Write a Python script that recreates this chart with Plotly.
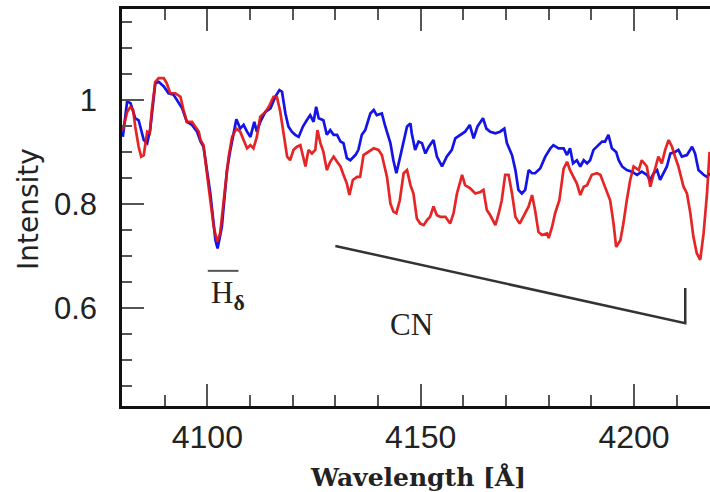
import plotly.graph_objects as go

# ---- data ----
blue_wl = [4080.2, 4081.2, 4082.0, 4083.1, 4083.9, 4085.1, 4085.9, 4086.6, 4087.8, 4088.6,
           4089.8, 4090.9, 4092.1, 4093.3, 4094.1, 4095.2, 4096.4, 4097.6, 4098.4, 4099.1,
           4100.7, 4101.9, 4102.4, 4103.4, 4104.6, 4105.4, 4106.2, 4106.8, 4107.7, 4108.5,
           4109.3, 4110.1, 4111.0, 4111.6, 4112.4, 4113.6, 4114.8, 4115.9, 4116.9, 4117.5,
           4118.3, 4119.0, 4119.8, 4120.6, 4121.4, 4122.4, 4123.3, 4124.1, 4124.9, 4125.5,
           4126.1, 4127.2, 4128.0, 4128.8, 4129.6, 4130.4, 4131.2, 4131.9, 4132.7, 4133.5,
           4134.7, 4135.4, 4136.2, 4137.0, 4138.2, 4139.0, 4139.7, 4140.9, 4141.7, 4142.9,
           4143.6, 4144.3, 4145.2, 4146.0, 4146.8, 4147.6,
           4147.9, 4148.7, 4149.5, 4150.3, 4151.1, 4151.9, 4153.0, 4153.8, 4155.0, 4156.1,
           4157.3, 4158.1, 4159.3, 4160.4, 4161.5, 4162.4, 4163.3, 4164.0, 4164.6, 4165.4,
           4166.3, 4167.5, 4168.6, 4169.6, 4170.2, 4171.4, 4172.2, 4172.9, 4173.7, 4174.5,
           4175.3, 4176.1, 4176.8, 4178.0, 4179.2, 4180.4, 4181.1, 4182.3, 4183.5, 4184.3,
           4185.0, 4185.7, 4186.6, 4187.4, 4188.2, 4189.0, 4189.7, 4190.5, 4191.7, 4192.5,
           4193.2, 4194.0, 4194.8, 4195.8, 4196.4, 4197.2, 4198.3, 4199.5, 4200.7, 4201.8,
           4203.0, 4203.8, 4204.6, 4205.4, 4206.1, 4206.9, 4207.7, 4208.5, 4209.6, 4210.4,
           4211.2, 4212.4, 4213.6, 4214.3, 4215.1, 4216.3, 4217.1, 4217.8]
blue_flux = [0.929, 0.997, 0.994, 0.965, 0.961, 0.923, 0.917, 0.942, 1.032, 1.035,
             1.026, 1.013, 1.010, 0.994, 0.984, 0.958, 0.952, 0.939, 0.920, 0.910,
             0.820, 0.730, 0.714, 0.756, 0.865, 0.904, 0.939, 0.963, 0.945, 0.952,
             0.939, 0.929, 0.958, 0.939, 0.958, 0.977, 0.984, 1.006, 1.019, 1.016,
             0.974, 0.949, 0.939, 0.933, 0.929, 0.949, 0.961, 0.971, 0.958, 0.987,
             0.965, 0.961, 0.933, 0.942, 0.933, 0.933, 0.920, 0.917, 0.888, 0.884,
             0.894, 0.904, 0.933, 0.942, 0.974, 0.981, 0.971, 0.974, 0.949, 0.917,
             0.884, 0.859, 0.891, 0.923, 0.949, 0.955,
             0.936, 0.904, 0.920, 0.917, 0.897, 0.910, 0.923, 0.891, 0.872, 0.891,
             0.904, 0.926, 0.933, 0.939, 0.952, 0.926, 0.949, 0.958, 0.965, 0.945,
             0.939, 0.936, 0.939, 0.945, 0.917, 0.894, 0.865, 0.827, 0.820, 0.827,
             0.865, 0.859, 0.859, 0.868, 0.891, 0.907, 0.913, 0.907, 0.907, 0.894,
             0.907, 0.878, 0.884, 0.872, 0.884, 0.878, 0.884, 0.904, 0.913, 0.920,
             0.920, 0.933, 0.907, 0.900, 0.884, 0.872, 0.865, 0.862, 0.856, 0.862,
             0.856, 0.846, 0.859, 0.865, 0.846, 0.859, 0.872, 0.897, 0.900, 0.904,
             0.891, 0.894, 0.910, 0.897, 0.865, 0.856, 0.852, 0.859]

red_wl = [4080.2, 4081.2, 4082.0, 4082.6, 4083.1, 4083.9, 4084.5, 4085.1, 4085.9, 4086.5,
          4087.0, 4087.8, 4088.6, 4089.8, 4090.5, 4091.3, 4092.5, 4093.7, 4094.4, 4095.2,
          4096.4, 4097.2, 4098.0, 4098.4, 4099.1, 4100.3, 4101.5, 4102.3, 4103.0, 4104.2,
          4105.0, 4105.8, 4106.8, 4107.7, 4108.5, 4109.3, 4110.1, 4110.8, 4111.6, 4112.4,
          4113.6, 4114.4, 4115.5, 4116.3, 4117.1, 4117.9, 4118.7, 4119.4, 4120.2, 4121.0,
          4121.8, 4123.0, 4123.7, 4124.5, 4125.3, 4125.8, 4126.5, 4127.2, 4128.0, 4128.8,
          4129.6, 4130.4, 4131.2, 4131.9, 4132.7, 4133.3, 4134.1, 4135.1, 4135.8, 4136.6,
          4137.8, 4139.0, 4140.1, 4140.9, 4142.1, 4142.9, 4143.6, 4144.3, 4145.1, 4146.0,
          4146.8, 4147.6,
          4148.3, 4149.1, 4149.9, 4150.7, 4151.5, 4152.2, 4153.0, 4153.8, 4154.6, 4155.8,
          4156.9, 4157.7, 4158.5, 4159.7, 4160.4, 4161.6, 4162.8, 4164.0, 4164.7, 4165.5,
          4166.3, 4167.5, 4168.3, 4169.0, 4169.8, 4170.6, 4171.4, 4172.2, 4173.2, 4174.1,
          4175.3, 4176.1, 4176.8, 4177.6, 4178.4, 4179.6, 4180.0, 4180.8, 4181.5, 4182.5,
          4183.5, 4184.3, 4185.0, 4185.8, 4186.6, 4187.4, 4188.2, 4189.0, 4190.1, 4191.3,
          4192.1, 4192.9, 4193.6, 4194.4, 4195.2, 4195.8, 4196.8, 4197.5, 4198.3, 4199.1,
          4199.9, 4201.1, 4201.8, 4203.0, 4203.8, 4204.6, 4205.7, 4206.5, 4207.3, 4208.1,
          4208.9, 4209.6, 4210.4, 4211.6, 4212.4, 4213.2, 4213.9, 4214.7, 4215.5, 4216.3,
          4217.1, 4217.7]
red_flux = [0.942, 0.977, 0.987, 0.981, 0.949, 0.910, 0.891, 0.894, 0.939, 0.936,
            0.981, 1.035, 1.042, 1.042, 1.032, 1.013, 1.013, 1.006, 0.981, 0.958,
            0.958, 0.949, 0.939, 0.923, 0.913, 0.833, 0.756, 0.727, 0.743, 0.833,
            0.891, 0.929, 0.945, 0.939, 0.923, 0.907, 0.913, 0.907, 0.929, 0.968,
            0.977, 0.987, 1.006, 1.006, 0.977, 0.936, 0.891, 0.884, 0.904, 0.910,
            0.913, 0.872, 0.904, 0.897, 0.904, 0.942, 0.917, 0.900, 0.865, 0.881,
            0.891, 0.881, 0.872, 0.856, 0.839, 0.817, 0.846, 0.852, 0.852, 0.894,
            0.900, 0.907, 0.904, 0.894, 0.852, 0.801, 0.785, 0.782, 0.807, 0.859,
            0.865, 0.836,
            0.820, 0.772, 0.762, 0.759, 0.769, 0.775, 0.795, 0.778, 0.775, 0.775,
            0.762, 0.782, 0.820, 0.856, 0.836, 0.830, 0.820, 0.823, 0.827, 0.788,
            0.778, 0.759, 0.782, 0.807, 0.856, 0.856, 0.820, 0.775, 0.762, 0.775,
            0.795, 0.817, 0.788, 0.746, 0.740, 0.743, 0.734, 0.756, 0.782, 0.807,
            0.868, 0.881, 0.865, 0.852, 0.839, 0.817, 0.833, 0.836, 0.856, 0.859,
            0.856, 0.839, 0.823, 0.807, 0.762, 0.717, 0.730, 0.762, 0.807, 0.846,
            0.872, 0.865, 0.884, 0.872, 0.833, 0.859, 0.891, 0.878, 0.904, 0.923,
            0.910, 0.891, 0.872, 0.833, 0.820, 0.782, 0.737, 0.705, 0.692, 0.743,
            0.820, 0.900]

x_range = [4080, 4217.8]
y_range = [0.4107, 1.1753]

# feature markers (data coordinates)
hdelta_bar = [4100.1, 4107.3, 0.671]
cn_line = [(4130.0, 0.719), (4212.0, 0.570), (4212.0, 0.638)]

fig = go.Figure()
fig.add_trace(go.Scatter(x=blue_wl, y=blue_flux, mode="lines",
                         line=dict(color="#1414e6", width=2.7), showlegend=False))
fig.add_trace(go.Scatter(x=red_wl, y=red_flux, mode="lines", opacity=0.92,
                         line=dict(color="#e41414", width=2.7), showlegend=False))

tickfont = dict(family="Liberation Sans, Arial, sans-serif", size=31, color="#222")
fig.update_layout(
    width=710, height=492,
    margin=dict(l=122, r=0, t=9, b=86),
    paper_bgcolor="white", plot_bgcolor="white",
    xaxis=dict(range=x_range, showgrid=False, zeroline=False,
               showline=True, linecolor="#111", linewidth=2.5, mirror="allticks",
               ticks="inside", ticklen=22, tickwidth=2, tickcolor="#555",
               tick0=4100, dtick=50, tickfont=dict(tickfont, size=32),
               ticklabelstandoff=1,
               minor=dict(dtick=10, ticks="inside", ticklen=11, tickwidth=2,
                          tickcolor="#555", showgrid=False)),
    yaxis=dict(range=y_range, showgrid=False, zeroline=False,
               showline=True, linecolor="#111", linewidth=2.5,
               ticks="inside", ticklen=22, tickwidth=2, tickcolor="#555",
               tick0=0, dtick=0.2, tickfont=tickfont, ticklabelstandoff=16,
               minor=dict(dtick=0.05, ticks="inside", ticklen=10, tickwidth=2,
                          tickcolor="#555", showgrid=False)),
    yaxis2=dict(range=y_range, overlaying="y", side="right", showgrid=False,
                zeroline=False, showline=False, showticklabels=False,
                ticks="inside", ticklen=22, tickwidth=2, tickcolor="#555",
                tick0=0, dtick=0.2,
                minor=dict(dtick=0.05, ticks="inside", ticklen=10, tickwidth=2,
                           tickcolor="#555", showgrid=False)),
)

fig.add_annotation(text="Intensity", xref="paper", yref="paper",
                   x=-0.1593, y=0.497, xanchor="center", yanchor="middle",
                   textangle=-90, showarrow=False,
                   font=dict(family="DejaVu Sans", size=28, color="#222"))
fig.add_annotation(text="<b>Wavelength [Å]</b>", xref="paper", yref="paper",
                   x=0.5037, y=-0.179, xanchor="center", yanchor="middle",
                   showarrow=False,
                   font=dict(family="DejaVu Serif", size=25, color="#222"))
fig.add_annotation(text="H<sub><b>δ</b></sub>", x=4100.4, y=0.625,
                   xanchor="left", yanchor="middle", showarrow=False,
                   font=dict(family="Liberation Serif, Times New Roman, serif",
                             size=31, color="#222"))
fig.add_annotation(text="CN", x=4147.8, y=0.5677, xanchor="center",
                   yanchor="middle", showarrow=False,
                   font=dict(family="Liberation Serif, Times New Roman, serif",
                             size=31, color="#222"))

fig.add_shape(type="line", x0=hdelta_bar[0], x1=hdelta_bar[1],
              y0=hdelta_bar[2], y1=hdelta_bar[2],
              line=dict(color="#555", width=2))
path = "M {} {} L {} {} L {} {}".format(cn_line[0][0], cn_line[0][1],
                                        cn_line[1][0], cn_line[1][1],
                                        cn_line[2][0], cn_line[2][1])
fig.add_shape(type="path", path=path, line=dict(color="#333", width=2.5))

fig.write_html("out.html")
